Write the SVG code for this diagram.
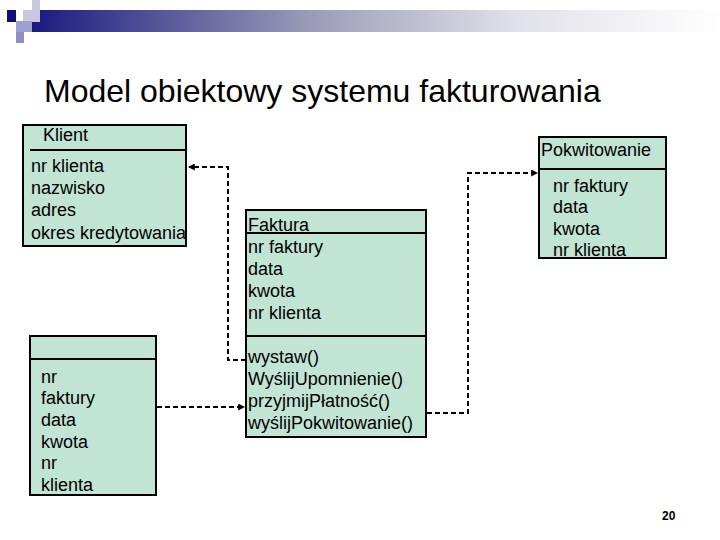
<svg xmlns="http://www.w3.org/2000/svg" width="720" height="540" viewBox="0 0 720 540">
<defs>
<linearGradient id="bar" x1="0" x2="1" y1="0" y2="0">
<stop offset="0" stop-color="#1a1a80"/><stop offset="0.4" stop-color="#9a9ab8"/><stop offset="0.7" stop-color="#e0e0e8"/><stop offset="1" stop-color="#ffffff"/>
</linearGradient>
<marker id="ah" viewBox="0 0 6 6" refX="5" refY="3" markerWidth="3.5" markerHeight="3.5" orient="auto"><path d="M0,0 L6,3 L0,6 z" fill="#000"/></marker>
</defs>
<style>
.box{fill:#c2e4d4;stroke:#000;stroke-width:2}
.ln{stroke:#000;stroke-width:2}
.t{font-family:"Liberation Sans",Arial,sans-serif;font-size:18px;fill:#000}
.c{fill:none;stroke:#000;stroke-width:2;stroke-dasharray:5,3}
</style>
<rect width="720" height="540" fill="#fff"/>
<g id="decor">
<rect x="32" y="10" width="688" height="22" fill="url(#bar)"/>
<rect x="32" y="0" width="8" height="10" fill="#c8c8e0"/>
<rect x="7" y="10" width="9" height="12" fill="#10107a"/>
<rect x="23" y="10" width="17" height="12" fill="#c8c8e0"/>
<rect x="16" y="21" width="16" height="11" fill="#a0a0d0"/>
<rect x="16" y="32" width="8" height="11" fill="#9090c0"/>
</g>
<text x="44" y="102" style="font-family:'Liberation Sans',Arial,sans-serif;font-size:32px">Model obiektowy systemu fakturowania</text>
<g id="klient">
<rect class="box" x="23" y="125" width="163" height="121"/>
<line class="ln" x1="30" y1="150" x2="186" y2="150"/>
<text class="t" x="43" y="141">Klient</text>
<text class="t" x="31" y="172">nr klienta</text>
<text class="t" x="31" y="194">nazwisko</text>
<text class="t" x="31" y="216">adres</text>
<text class="t" x="31" y="239">okres kredytowania</text>
</g>
<g id="faktura">
<rect class="box" x="246" y="210" width="180" height="227"/>
<line class="ln" x1="246" y1="233" x2="426" y2="233"/>
<line class="ln" x1="246" y1="336" x2="426" y2="336"/>
<text class="t" x="248" y="231">Faktura</text>
<text class="t" x="248" y="253">nr faktury</text>
<text class="t" x="248" y="275">data</text>
<text class="t" x="248" y="297">kwota</text>
<text class="t" x="248" y="319">nr klienta</text>
<text class="t" x="248" y="363">wystaw()</text>
<text class="t" x="248" y="385">WyślijUpomnienie()</text>
<text class="t" x="248" y="407">przyjmijPłatność()</text>
<text class="t" x="248" y="429">wyślijPokwitowanie()</text>
</g>
<g id="anon">
<rect class="box" x="30" y="336" width="126" height="159"/>
<line class="ln" x1="30" y1="359" x2="156" y2="359"/>
<text class="t" x="41" y="383">nr</text>
<text class="t" x="41" y="404">faktury</text>
<text class="t" x="41" y="426">data</text>
<text class="t" x="41" y="448">kwota</text>
<text class="t" x="41" y="469">nr</text>
<text class="t" x="41" y="491">klienta</text>
</g>
<g id="pokwitowanie">
<rect class="box" x="539" y="137" width="127" height="121"/>
<line class="ln" x1="539" y1="169" x2="666" y2="169"/>
<text class="t" x="541" y="156">Pokwitowanie</text>
<text class="t" x="553" y="192">nr faktury</text>
<text class="t" x="553" y="213">data</text>
<text class="t" x="553" y="235">kwota</text>
<text class="t" x="553" y="256">nr klienta</text>
</g>
<g id="connectors">
<polyline class="c" points="246,360 228,360 228,167 189,167" marker-end="url(#ah)"/>
<polyline class="c" points="157,407 244,407" marker-end="url(#ah)"/>
<polyline class="c" points="427,413 468,413 468,173 537,173" marker-end="url(#ah)"/>
</g>
<text x="662" y="520" style="font-family:'Liberation Sans',Arial,sans-serif;font-size:12px;font-weight:bold">20</text>
</svg>
